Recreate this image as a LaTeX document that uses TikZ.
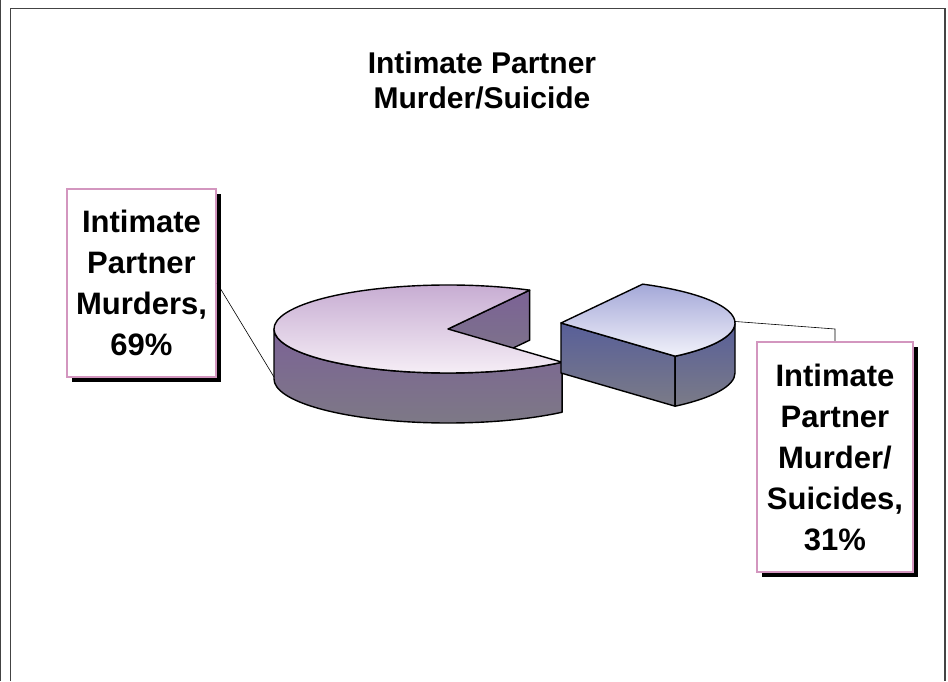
\documentclass[tikz,border=0pt]{standalone}
\usepackage{fontspec}
\setmainfont{Liberation Sans}
\usetikzlibrary{shadows}

\definecolor{bigtop}{HTML}{C4A8D0}
\definecolor{bigtoplow}{HTML}{F7F0F7}
\definecolor{bigside}{HTML}{7C6296}
\definecolor{bigsidelow}{HTML}{7D7A85}
\definecolor{exptop}{HTML}{A4A8D8}
\definecolor{exptoplow}{HTML}{F1F1FA}
\definecolor{expside}{HTML}{585F99}
\definecolor{expsidelow}{HTML}{7B7B87}
\definecolor{boxpink}{HTML}{D396BF}
\definecolor{framegray}{HTML}{444444}

\begin{document}
\begin{tikzpicture}[x=1pt, y=1pt,
    pieline/.style={draw=black, line width=1.4pt, line join=round},
    lbl/.style={draw=boxpink, line width=2pt, fill=white, inner sep=0pt,
        align=center, font=\fontsize{31}{41}\selectfont\bfseries,
        drop shadow={opacity=1, fill=black, shadow xshift=5pt, shadow yshift=-5pt}},
    leader/.style={draw=black, line width=0.6pt}]
        \pgfmathsetmacro{\rx}{174}
        \pgfmathsetmacro{\ry}{44}
        \pgfmathsetmacro{\dep}{50}
        \pgfmathsetmacro{\cutBack}{62}
        \pgfmathsetmacro{\cutFront}{-49}

        \useasboundingbox (0,0) rectangle (948,681);
        \draw[framegray, line width=1.2pt] (0.6,0) -- (0.6,681);
        \draw[framegray, line width=1.4pt] (10.7,0) -- (10.7,672.3) -- (945,672.3) -- (945,0);

        \node[font=\fontsize{30}{35}\selectfont\bfseries, align=center] (title) at (482,601)
            {Intimate Partner\\Murder/Suicide};

        \begin{scope}[shift={(448,352)}]
            \draw[pieline, top color=bigside, bottom color=bigsidelow]
                (0,0) -- ({\rx*cos(\cutBack)},{\ry*sin(\cutBack)}) -- ++(0,-\dep) -- (0,-\dep) -- cycle;
            \draw[pieline, top color=bigside, bottom color=bigsidelow]
                (-\rx,0) arc[start angle=180, end angle=360+\cutFront, x radius=\rx, y radius=\ry]
                -- ++(0,-\dep) arc[start angle=360+\cutFront, end angle=180, x radius=\rx, y radius=\ry] -- cycle;
            \draw[pieline, top color=bigtop, bottom color=bigtoplow]
                (0,0) -- ({\rx*cos(\cutBack)},{\ry*sin(\cutBack)})
                arc[start angle=\cutBack, end angle=360+\cutFront, x radius=\rx, y radius=\ry] -- cycle;
            \coordinate (bigleft) at (-\rx,-\dep+2);
        \end{scope}

        \begin{scope}[shift={(561,358)}]
            \draw[pieline, top color=expside, bottom color=expsidelow]
                (0,0) -- ({\rx*cos(\cutFront)},{\ry*sin(\cutFront)}) -- ++(0,-\dep) -- (0,-\dep) -- cycle;
            \draw[pieline, top color=expside, bottom color=expsidelow]
                ({\rx*cos(\cutFront)},{\ry*sin(\cutFront)}) arc[start angle=\cutFront, end angle=0, x radius=\rx, y radius=\ry]
                -- ++(0,-\dep) arc[start angle=0, end angle=\cutFront, x radius=\rx, y radius=\ry] -- cycle;
            \draw[pieline, top color=exptop, bottom color=exptoplow]
                (0,0) -- ({\rx*cos(\cutFront)},{\ry*sin(\cutFront)})
                arc[start angle=\cutFront, end angle=\cutBack, x radius=\rx, y radius=\ry] -- cycle;
            \coordinate (expright) at ({\rx*cos(2)},{\ry*sin(2)});
        \end{scope}

        \node[lbl, minimum width=149pt, minimum height=188pt] (lmurder) at (141.5,398)
            {Intimate\\Partner\\Murders,\\69\%};
        \node[lbl, minimum width=156pt, minimum height=230pt] (lsuicide) at (835,224)
            {Intimate\\Partner\\Murder/\\Suicides,\\31\%};

        \draw[leader] (lmurder.east) -- (bigleft);
        \draw[leader] (expright) -- ([yshift=12pt]lsuicide.north) -- (lsuicide.north);
    \end{tikzpicture}
\end{document}
